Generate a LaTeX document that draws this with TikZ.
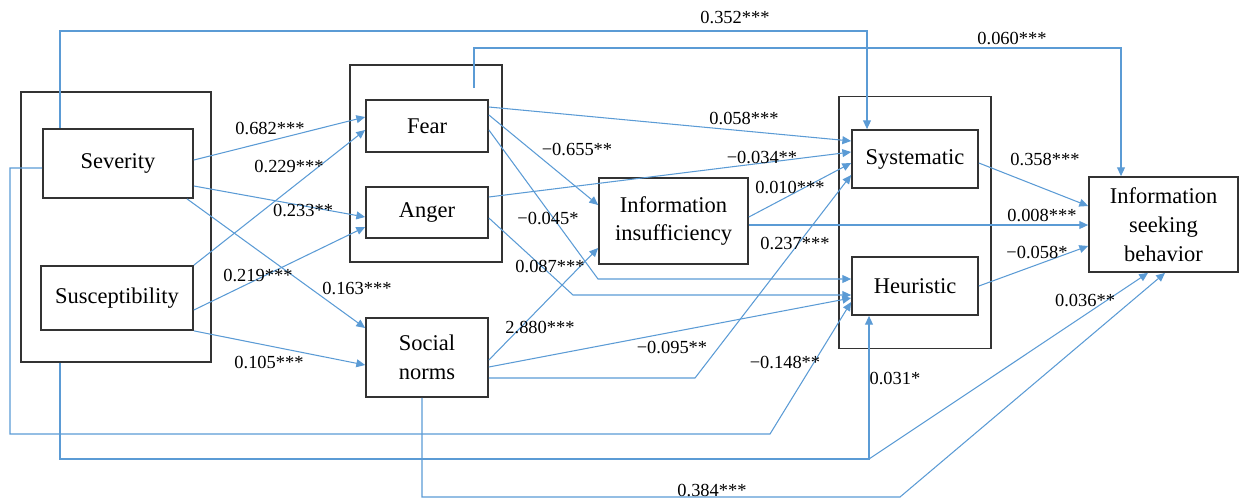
\documentclass[tikz,border=0pt]{standalone}
\usepackage{fontspec}
\setmainfont{Liberation Serif}
\usetikzlibrary{arrows.meta}
\definecolor{pathblue}{RGB}{91,155,213}

\begin{document}
\begin{tikzpicture}[x=0.02cm,y=-0.02cm,
        frame/.style={draw=black!80, line width=1pt, inner sep=0pt},
        box/.style={draw=black!80, line width=1pt, inner sep=0pt, align=center,
            font=\fontsize{12.8}{16.5}\selectfont},
        link/.style={draw=pathblue, line width=0.6pt,
            -{Triangle[length=5pt,width=4.5pt]}},
        coef/.style={inner sep=0pt, font=\fontsize{10.5}{12}\selectfont}]
            \useasboundingbox (0,0) rectangle (1239,501);
            % group frames
            \node[frame, minimum width=3.8cm, minimum height=5.4cm] (risk) at (116,227) {};
            \node[frame, minimum width=3.04cm, minimum height=3.94cm] (emo) at (426,163.5) {};
            \node[frame, minimum width=3.04cm, minimum height=5.04cm] (route) at (915,222.5) {};
            % variables
            \node[box, minimum width=3cm, minimum height=1.38cm] (sev) at (118,163.5) {Severity};
            \node[box, minimum width=3.04cm, minimum height=1.28cm] (sus) at (117,298) {Susceptibility};
            \node[box, minimum width=2.44cm, minimum height=1.04cm] (fear) at (427,126) {Fear};
            \node[box, minimum width=2.44cm, minimum height=1.02cm] (anger) at (427,212.5) {Anger};
            \node[box, minimum width=2.44cm, minimum height=1.58cm] (soc) at (427,357.5) {Social\\norms};
            \node[box, minimum width=2.98cm, minimum height=1.72cm] (insuf) at (673.5,221) {Information\\insufficiency};
            \node[box, minimum width=2.52cm, minimum height=1.16cm] (sys) at (915,159) {Systematic};
            \node[box, minimum width=2.52cm, minimum height=1.16cm] (heu) at (915,286) {Heuristic};
            \node[box, minimum width=2.98cm, minimum height=1.9cm] (seek) at (1163.5,224.5) {Information\\seeking\\behavior};
            \coordinate (emotop) at (474,88);
            \coordinate (split) at (869,459);
            % paths
            \draw[link] (sev.north -| 60,0) -- (60,31) -| (sys.north -| 867,0);
            \draw[link] (emotop) -- (474,48) -| (seek.north -| 1121,0);
            \draw[link] (sev.east |- 0,160) -- (fear.west |- 0,117);
            \draw[link] (sus.north east) -- (fear.west |- 0,130);
            \draw[link] (sev.east |- 0,186) -- (anger.west |- 0,217);
            \draw[link] (sus.east |- 0,310) -- (anger.west |- 0,227);
            \draw[link] (sev.south -| 187,0) -- (soc.west |- 0,328);
            \draw[link] (sus.south east) -- (soc.west |- 0,365);
            \draw[link] (fear.east |- 0,107) -- (sys.west |- 0,141);
            \draw[link] (fear.east |- 0,115) -- (insuf.west |- 0,205);
            \draw[link] (fear.east |- 0,130) -- (598,279) -- (heu.west |- 0,279);
            \draw[link] (anger.east |- 0,197) -- (sys.west |- 0,152);
            \draw[link] (anger.east |- 0,218) -- (573,295) -- (heu.west |- 0,295);
            \draw[link] (insuf.east |- 0,217) -- (sys.west |- 0,163);
            \draw[link] (insuf.east |- 0,225) -- (seek.west |- 0,225);
            \draw[link] (soc.east |- 0,360) -- (insuf.west |- 0,248);
            \draw[link] (soc.east |- 0,367) -- (heu.west |- 0,298);
            \draw[link] (soc.east |- 0,378) -- (695,378) -- (sys.west |- 0,175);
            \draw[link] (sys.east |- 0,163) -- (seek.west |- 0,206);
            \draw[link] (heu.east |- 0,286) -- (seek.west |- 0,246);
            \draw[link] (sev.west |- 0,168) -- (10,168) -- (10,434) -- (770,434) -- (heu.west |- 0,302);
            \draw[link] (risk.south -| 60,0) |- (split) -- (heu.south -| split);
            \draw[link] (split) -- (seek.south -| 1148,0);
            \draw[link] (soc.south -| 422,0) -- (422,497) -- (900,497) -- (seek.south -| 1165,0);
            % coefficients
            \node[coef] (c352) at (735,17) {0.352***};
            \node[coef] (c060) at (1012,38) {0.060***};
            \node[coef] (c682) at (270,128) {0.682***};
            \node[coef] (c229) at (289,166) {0.229***};
            \node[coef] (c233) at (303,210) {0.233**};
            \node[coef] (c219) at (258,275) {0.219***};
            \node[coef] (c163) at (357,288) {0.163***};
            \node[coef] (c105) at (269,362) {0.105***};
            \node[coef] (c058) at (744,118) {0.058***};
            \node[coef] (c655) at (577,149) {−0.655**};
            \node[coef] (c034) at (762,157) {−0.034**};
            \node[coef] (c045) at (548,218) {−0.045*};
            \node[coef] (c010) at (790,187) {0.010***};
            \node[coef] (c008) at (1042,215) {0.008***};
            \node[coef] (c358) at (1045,159) {0.358***};
            \node[coef] (c058n) at (1037,252) {−0.058*};
            \node[coef] (c087) at (550,266) {0.087***};
            \node[coef] (c237) at (795,243) {0.237***};
            \node[coef] (c880) at (540,327) {2.880***};
            \node[coef] (c095) at (672,347) {−0.095**};
            \node[coef] (c148) at (785,362) {−0.148**};
            \node[coef] (c031) at (895,378) {0.031*};
            \node[coef] (c036) at (1085,300) {0.036**};
            \node[coef] (c384) at (712,490) {0.384***};
        \end{tikzpicture}
\end{document}
